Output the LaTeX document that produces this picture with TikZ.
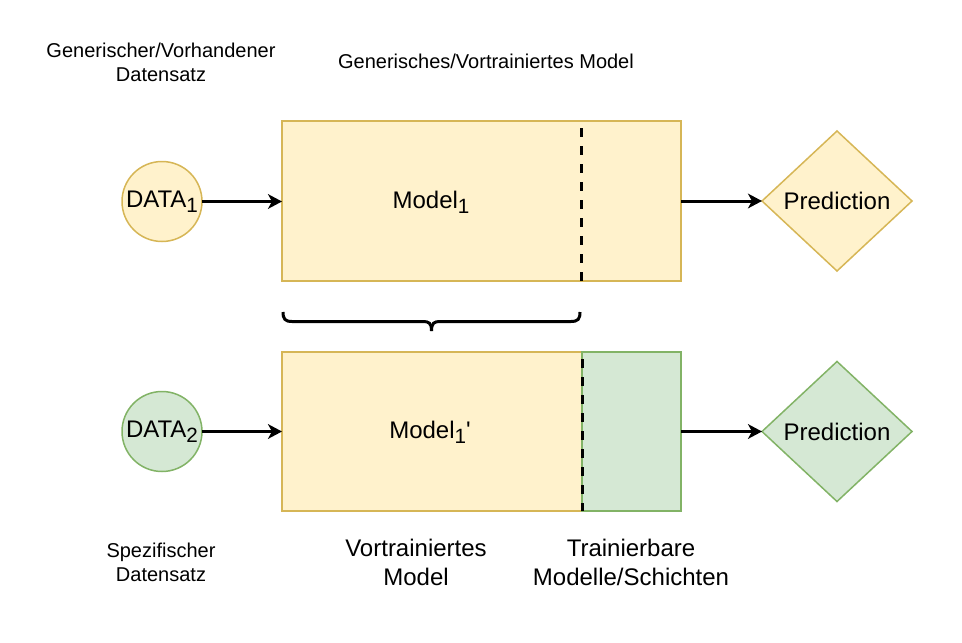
\documentclass[tikz,border=0pt]{standalone}
\usepackage{fontspec}
\setmainfont{Liberation Sans}
\usetikzlibrary{shapes.geometric,arrows.meta}
\definecolor{yfill}{HTML}{FFF2CC}
\definecolor{ydraw}{HTML}{D6B656}
\definecolor{gfill}{HTML}{D5E8D4}
\definecolor{gdraw}{HTML}{82B366}
\newcommand{\mysubidx}[1]{\raisebox{-4pt}{\fontsize{15.5pt}{15.5pt}\selectfont #1}}
\begin{document}
\begin{tikzpicture}[x=0.75pt,y=-0.75pt,
  ybox/.style={draw=ydraw,fill=yfill,line width=1.125pt,inner sep=0pt,outer sep=0pt},
  gbox/.style={draw=gdraw,fill=gfill,line width=1.125pt,inner sep=0pt,outer sep=0pt},
  bigfont/.style={font=\fontsize{18pt}{21.75pt}\selectfont},
  smallfont/.style={font=\fontsize{15pt}{18pt}\selectfont},
  datac/.style={circle,minimum size=60pt,bigfont},
  pred/.style={diamond,minimum width=112.5pt,minimum height=105pt,bigfont},
  lbl/.style={align=center,inner sep=0pt},
  conn/.style={line width=2.25pt,-{Stealth[length=10.5pt,width=11pt,inset=3pt]}},
  dashline/.style={line width=2.25pt,dash pattern=on 6.75pt off 6.75pt,dash phase=8.25pt},
  bracestyle/.style={line width=2.25pt}
]
\useasboundingbox (0,0) rectangle (962,642);

% top row
\node[ybox,datac] (d1) at (162,201.5) {DATA\mysubidx{1}};
\node[ybox,minimum width=299.25pt,minimum height=120pt] (m1) at (481.5,201) {};
\node[lbl,bigfont] (m1t) at (431,202) {Model\mysubidx{1}};
\coordinate (c1t) at (581,121);
\coordinate (c1b) at (581,281);
\draw[dashline] (c1t) -- (c1b);
\node[ybox,pred] (p1) at (837,201) {Prediction};
\draw[conn] (d1.east) -- (m1.west |- d1.east);
\draw[conn] (m1.east) -- (p1.west);

% bottom row
\node[gbox,datac] (d2) at (162,431.5) {DATA\mysubidx{2}};
\node[ybox,minimum width=225pt,minimum height=119.25pt] (m2a) at (432,431.5) {};
\node[gbox,minimum width=74.25pt,minimum height=119.25pt] (m2b) at (631.5,431.5) {};
\node[lbl,bigfont] (m2t) at (430,432) {Model\mysubidx{1}\textquotesingle};
\draw[dashline] (m2a.north east) -- (m2a.south east);
\node[gbox,pred] (p2) at (837,431.5) {Prediction};
\draw[conn] (d2.east) -- (m2a.west |- d2.east);
\draw[conn] (m2b.east) -- (p2.west);

% brace
\coordinate (bl) at (283,312);
\coordinate (br) at (580,312);
\coordinate (bt) at (431.5,331);
\draw[bracestyle] (bl) .. controls (283,319) and (285,321.5) .. (292,321.5) -- (423,321.5)
  .. controls (429,321.5) and (431.5,323) .. (bt);
\draw[bracestyle] (br) .. controls (580,319) and (578,321.5) .. (571,321.5) -- (440,321.5)
  .. controls (434,321.5) and (431.5,323) .. (bt);

% labels
\node[lbl,smallfont] (l1) at (161,62) {Generischer/Vorhandener\\Datensatz};
\node[lbl,smallfont] (l2) at (486,61) {Generisches/Vortrainiertes Model};
\node[lbl,smallfont] (l3) at (161,562.5) {Spezifischer\\Datensatz};
\node[lbl,bigfont] (l4) at (416,562.5) {Vortrainiertes\\Model};
\node[lbl,bigfont] (l5) at (631,562.5) {Trainierbare\\Modelle/Schichten};
\end{tikzpicture}
\end{document}
